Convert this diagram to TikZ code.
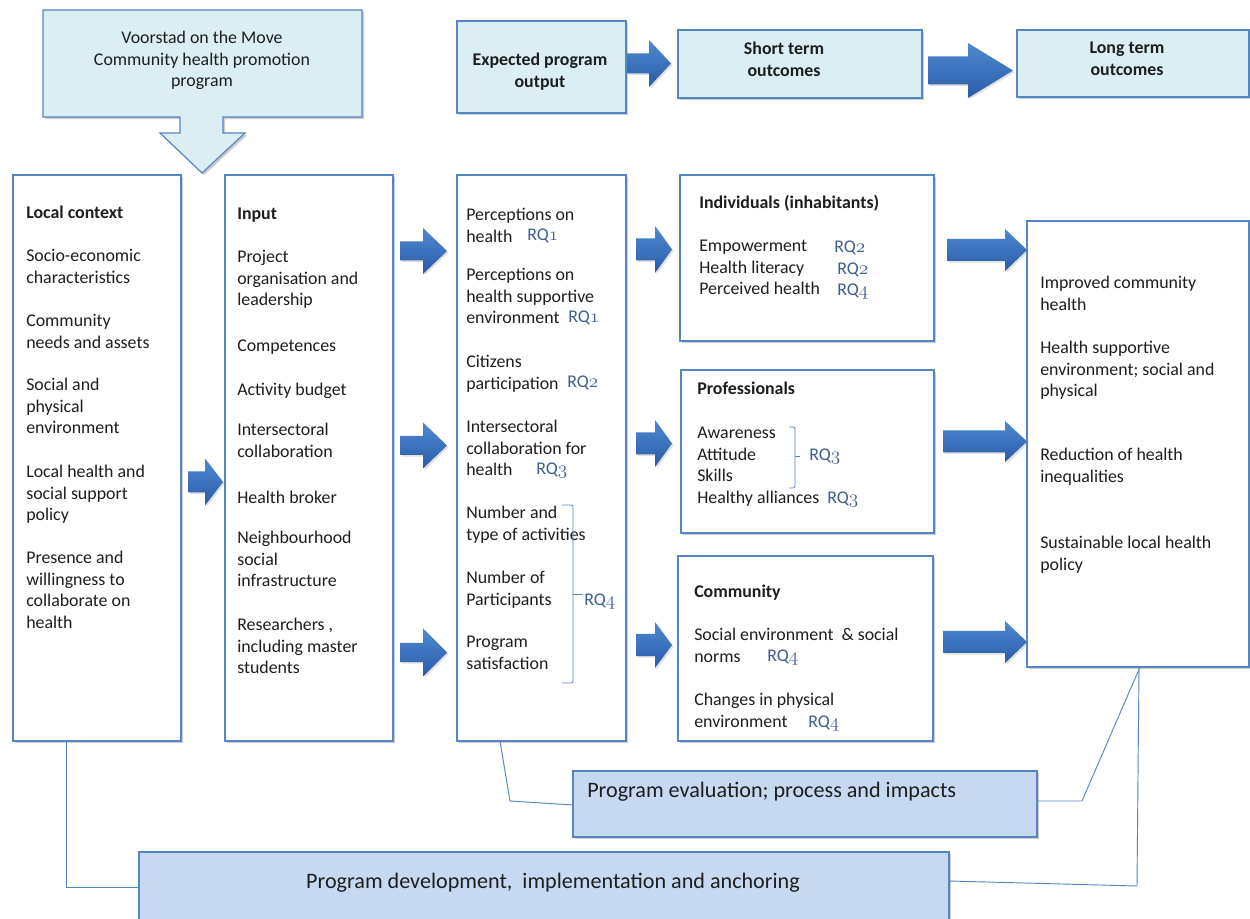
\documentclass[tikz,border=0pt]{standalone}
\usepackage{fontspec}
\setmainfont{Carlito}
\usetikzlibrary{shadows,calc}

\definecolor{edge}{HTML}{5585C5}
\definecolor{headfill}{HTML}{DBEEF4}
\definecolor{lowfill}{HTML}{C6D9F1}
\definecolor{ink}{HTML}{1E1E1E}
\definecolor{rqblue}{HTML}{3E5E8E}
\definecolor{arrtop}{HTML}{4F88D2}
\definecolor{arrbot}{HTML}{2A5CA6}

\newcommand\bodyfont{\fontsize{13.4}{16.2}\selectfont}
\newcommand\bigfont{\fontsize{16.6}{20}\selectfont}
\newcommand\rqtag[1]{RQ$\mathnormal{#1}$}

% box given by its pixel corners: name, style, x1, y1, x2, y2
\newcommand\pbox[6]{%
  \node[#2, minimum width={(#5-#3)*0.75pt}, minimum height={(#6-#4)*0.75pt}] (#1) at (#3,#4) {};}

% block arrow: x start, head start, tip, y centre, shaft half height, head half height
\newcommand\fatarrow[6]{%
  \path[fat] (#1,#4-#5) -- (#2,#4-#5) -- (#2,#4-#6) -- (#3,#4) -- (#2,#4+#6)
    -- (#2,#4+#5) -- (#1,#4+#5) -- cycle;}

\begin{document}
\begin{tikzpicture}[x=0.75pt, y=-0.75pt,
  shade/.style={drop shadow={shadow xshift=1.6pt, shadow yshift=-1.6pt, opacity=0.28, fill=black!70}},
  box/.style={draw=edge, line width=0.9pt, fill=white, inner sep=0pt, outer sep=0pt,
    anchor=north west, shade},
  hbox/.style={box, fill=headfill},
  lbox/.style={box, fill=lowfill},
  txt/.style={anchor=north west, inner sep=0pt, align=left, font=\bodyfont, text=ink,
    execute at begin node=\strut, yshift=-2.2pt},
  ttl/.style={anchor=north west, inner sep=0pt, align=left, font=\bodyfont\bfseries, text=ink,
    execute at begin node=\strut},
  hdr/.style={anchor=north, inner sep=0pt, align=center, font=\bodyfont\bfseries, text=ink,
    execute at begin node=\strut, yshift=-2.2pt},
  rqn/.style={anchor=base west, inner sep=0pt, font=\fontsize{13.4}{16}\selectfont\rmfamily, text=rqblue},
  wire/.style={draw=edge, line width=0.7pt},
  brk/.style={draw=edge, line width=0.6pt, rounded corners=1.5pt},
  fat/.style={top color=arrtop, bottom color=arrbot, draw=none,
    drop shadow={shadow xshift=1.2pt, shadow yshift=-1.2pt, opacity=0.2, fill=black!60}}
]
\clip (0,0) rectangle (1250,919);
\fill[white] (0,0) rectangle (1250,919);

% programme callout with its downward arrow
\path[draw=edge, line width=0.9pt, fill=headfill, shade]
  (43,10) -- (362,10) -- (362,117) -- (223,117) -- (223,133) -- (245,133) -- (202,173)
  -- (160,133) -- (180,133) -- (180,117) -- (43,117) -- cycle;
\node[anchor=north, inner sep=0pt, align=center, font=\bodyfont, text=ink,
  execute at begin node=\strut] (prog) at (202,31)
  {Voorstad on the Move\\Community  health promotion\\program};

% header row
\pbox{outhead}{hbox}{457}{21}{626}{113}
\pbox{shorthead}{hbox}{678}{30}{922}{98}
\pbox{longhead}{hbox}{1017}{30}{1249}{97}
\node[hdr] (outheadt) at (540,50) {Expected program\\output};
\node[hdr] (shortheadt) at (784,39) {Short term\\outcomes};
\node[hdr] (longheadt) at (1127,39) {Long term\\outcomes};
\fatarrow{627}{649}{671}{63.5}{10}{23.5}
\fatarrow{928}{968}{1013}{70.5}{14}{27.5}

% main columns
\pbox{ctx}{box}{13}{175}{181}{741}
\pbox{inp}{box}{225}{175}{393}{741}
\pbox{outp}{box}{457}{175}{626}{741}
\pbox{indiv}{box}{680}{175}{934}{341}
\pbox{prof}{box}{681}{370}{934}{533}
\pbox{comm}{box}{678}{556}{933}{741}
\pbox{lt}{box}{1027}{221}{1249}{667}

% local context
\node[ttl] (ctx0) at (26,203) {Local context};
\node[txt] (ctx1) at (26,246) {Socio-economic\\characteristics};
\node[txt] (ctx2) at (26,311) {Community\\needs and assets};
\node[txt] (ctx3) at (26,375) {Social and\\physical\\environment};
\node[txt] (ctx4) at (26,462) {Local health and\\social  support\\policy};
\node[txt] (ctx5) at (26,548) {Presence and\\willingness to\\collaborate on\\health};

% input
\node[ttl] (inp0) at (237,204) {Input};
\node[txt] (inp1) at (237,247) {Project\\organisation and\\leadership};
\node[txt] (inp2) at (237,333) {Competences};
\node[txt] (inp3) at (237,377) {Activity budget};
\node[txt] (inp4) at (237,420) {Intersectoral\\collaboration};
\node[txt] (inp5) at (237,485) {Health broker};
\node[txt] (inp6) at (237,528) {Neighbourhood\\social\\infrastructure};
\node[txt] (inp7) at (237,615) {Researchers ,\\including master\\students};

% expected programme output
\node[txt] (out1) at (466,205) {Perceptions on\\health};
\node[txt] (out2) at (466,265) {Perceptions on\\health supportive\\environment};
\node[txt] (out3) at (466,352) {Citizens\\participation};
\node[txt] (out4) at (466,417) {Intersectoral\\collaboration for\\health};
\node[txt] (out5) at (466,503) {Number and\\type of activities};
\node[txt] (out6) at (466,568) {Number of\\Participants};
\node[txt] (out7) at (466,633) {Program\\satisfaction};
\node[rqn] (rqo1) at (527,241) {\rqtag{1}};
\node[rqn] (rqo2) at (568,323) {\rqtag{1}};
\node[rqn] (rqo3) at (567,388) {\rqtag{2}};
\node[rqn] (rqo4) at (536,475) {\rqtag{3}};
\node[rqn] (rqo5) at (584,605) {\rqtag{4}};
\draw[brk] (562,505) -- (573,505) -- (573,683) -- (562,683);
\draw[brk] (573,594) -- (583,594);

% individuals
\node[ttl] (ind0) at (699,193) {Individuals (inhabitants)};
\node[txt] (ind1) at (699,237) {Empowerment\\Health literacy\\Perceived health};
\node[rqn] (rqi1) at (834,253) {\rqtag{2}};
\node[rqn] (rqi2) at (837,275) {\rqtag{2}};
\node[rqn] (rqi3) at (837,296) {\rqtag{4}};

% professionals
\node[ttl] (pro0) at (697,379) {Professionals};
\node[txt] (pro1) at (697,424) {Awareness\\Attitude\\Skills\\Healthy alliances};
\node[rqn] (rqp1) at (809,461) {\rqtag{3}};
\node[rqn] (rqp2) at (827,504) {\rqtag{3}};
\draw[brk] (789,427) -- (795,427) -- (795,488) -- (789,488);
\draw[brk] (795,456) -- (800,456);

% community
\node[ttl] (com0) at (694,582) {Community};
\node[txt] (com1) at (694,625) {Social environment\ \ \& social\\norms};
\node[txt] (com2) at (694,690) {Changes in physical\\environment};
\node[rqn] (rqc1) at (767,662) {\rqtag{4}};
\node[rqn] (rqc2) at (808,727) {\rqtag{4}};

% long term outcomes
\node[txt] (lt1) at (1040,273) {Improved community\\health};
\node[txt] (lt2) at (1040,338) {Health supportive\\environment; social and\\physical};
\node[txt] (lt3) at (1040,445) {Reduction of health\\inequalities};
\node[txt] (lt4) at (1040,533) {Sustainable local health\\policy};

% block arrows between the columns
\fatarrow{188}{205}{223}{482}{10.5}{23.5}
\fatarrow{400}{423}{447}{251}{9.5}{23}
\fatarrow{400}{423}{447}{445.5}{9.5}{23}
\fatarrow{400}{423}{447}{652.5}{9.5}{24}
\fatarrow{636}{655}{672}{249.5}{11}{23.5}
\fatarrow{636}{655}{672}{443.5}{11}{23.5}
\fatarrow{636}{655}{672}{645}{11}{23}
\fatarrow{947}{1005}{1027}{250}{11}{21}
\fatarrow{943}{1005}{1027}{441.5}{11}{20.5}
\fatarrow{943}{1005}{1027}{642}{11}{21}

% evaluation and development bars
\pbox{eval}{lbox}{573}{771}{1037}{837}
\pbox{dev}{lbox}{139}{852}{949}{960}
\node[anchor=base west, inner sep=0pt, font=\bigfont, text=ink] (evalt) at (587,797)
  {Program evaluation; process and impacts};
\node[anchor=base, inner sep=0pt, font=\bigfont, text=ink] (devt) at (553,888)
  {Program development,\ \ implementation and anchoring};

% feedback lines
\coordinate (b1) at (66,887);
\coordinate (b2) at (510,801);
\coordinate (b3) at (1082,801);
\coordinate (b4) at (1137,886);
\draw[wire] ($(ctx.south west)+(53,0)$) -- (b1) -- ($(dev.north west)+(0,35)$);
\draw[wire] ($(outp.south west)+(43,0)$) -- (b2) -- ($(eval.north west)+(0,34)$);
\draw[wire] ($(eval.north east)+(0,30)$) -- (b3) -- ($(lt.south west)+(113,0)$);
\draw[wire] ($(dev.north east)+(0,29)$) -- (b4) -- ($(lt.south west)+(112,0)$);
\end{tikzpicture}
\end{document}
